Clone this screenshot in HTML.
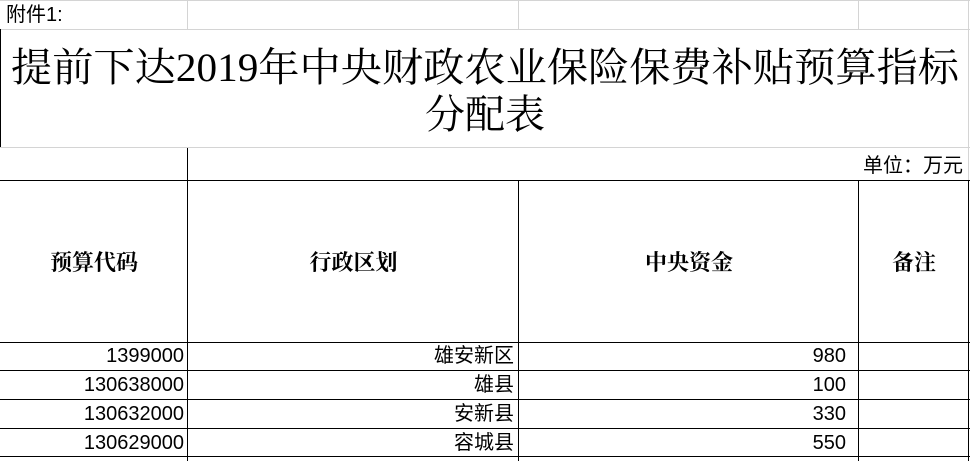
<!DOCTYPE html>
<html><head><meta charset="utf-8"><style>
body{margin:0;width:970px;height:461px;background:#fff;position:relative;overflow:hidden}
.l{position:absolute;background:#000}
.g{position:absolute;background:#d4d4d4}
.t{position:absolute;white-space:nowrap}
.s{font-family:"Liberation Sans","Noto Sans CJK SC",sans-serif;font-size:20px;line-height:22px}
.h{font-family:"Liberation Serif","Noto Serif CJK SC",serif;font-size:22px;font-weight:bold;line-height:26px}
</style></head><body>
<div class="g" style="left:0;top:0;width:970px;height:1px"></div>
<div class="g" style="left:0;top:29px;width:970px;height:1px"></div>
<div class="g" style="left:187px;top:0;width:1px;height:29px"></div>
<div class="g" style="left:518px;top:0;width:1px;height:29px"></div>
<div class="g" style="left:858px;top:0;width:1px;height:29px"></div>
<div class="g" style="left:968px;top:0;width:1px;height:180px"></div>
<div class="l" style="left:0;top:29px;width:1px;height:118px"></div>
<div class="g" style="left:0;top:147px;width:970px;height:1px"></div>
<div class="l" style="left:187px;top:148px;width:1px;height:313px"></div>
<div class="l" style="left:518px;top:180px;width:1px;height:281px"></div>
<div class="l" style="left:858px;top:180px;width:1px;height:281px"></div>
<div class="l" style="left:968px;top:180px;width:1px;height:281px"></div>
<div class="l" style="left:0;top:180px;width:970px;height:1px"></div>
<div class="l" style="left:0;top:342px;width:970px;height:1px"></div>
<div class="l" style="left:0;top:370px;width:970px;height:1px"></div>
<div class="l" style="left:0;top:399px;width:970px;height:1px"></div>
<div class="l" style="left:0;top:428px;width:970px;height:1px"></div>
<div class="l" style="left:0;top:456px;width:970px;height:1px"></div>
<div class="t s" style="left:6px;top:4px">附件1:</div>
<svg style="position:absolute;left:0;top:0" width="970" height="148">
<text x="11" y="81" textLength="948" lengthAdjust="spacingAndGlyphs" font-family="Liberation Serif, Noto Serif CJK SC, serif" font-size="40">提前下达2019年中央财政农业保险保费补贴预算指标</text>
<text x="485" y="128" text-anchor="middle" font-family="Liberation Serif, Noto Serif CJK SC, serif" font-size="40">分配表</text>
</svg>
<div class="t s" style="right:7px;top:155px">单位：万元</div>
<div class="t h" style="left:0;width:188px;text-align:center;top:250px">预算代码</div>
<div class="t h" style="left:188px;width:331px;text-align:center;top:250px">行政区划</div>
<div class="t h" style="left:519px;width:340px;text-align:center;top:250px">中央资金</div>
<div class="t h" style="left:859px;width:110px;text-align:center;top:250px">备注</div>
<div class="t s" style="right:786px;top:345px">1399000</div>
<div class="t s" style="right:456px;top:345px">雄安新区</div>
<div class="t s" style="right:124px;top:345px">980</div>
<div class="t s" style="right:786px;top:374px">130638000</div>
<div class="t s" style="right:456px;top:374px">雄县</div>
<div class="t s" style="right:124px;top:374px">100</div>
<div class="t s" style="right:786px;top:403px">130632000</div>
<div class="t s" style="right:456px;top:403px">安新县</div>
<div class="t s" style="right:124px;top:403px">330</div>
<div class="t s" style="right:786px;top:432px">130629000</div>
<div class="t s" style="right:456px;top:432px">容城县</div>
<div class="t s" style="right:124px;top:432px">550</div>
</body></html>
